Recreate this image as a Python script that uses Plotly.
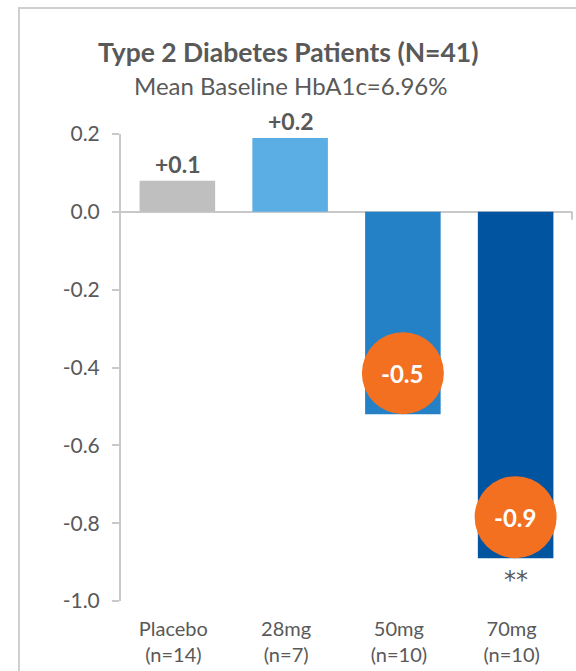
import plotly.graph_objects as go

# HbA1c change from baseline by dose group
categories = ["Placebo<br>(n=14)", "28mg<br>(n=7)", "50mg<br>(n=10)", "70mg<br>(n=10)"]
hba1c_change = [0.08, 0.19, -0.52, -0.89]
significance = ["", "", "", "**"]
bar_colors = ["#BFBFBF", "#5BAEE4", "#2581C5", "#0054A0"]
highlighted = [False, False, True, True]
y_ticks = [0.2, 0.0, -0.2, -0.4, -0.6, -0.8, -1.0]

title_text = "Type 2 Diabetes Patients (N=41)"
subtitle_text = "Mean Baseline HbA1c=6.96%"

# page geometry (pixels)
W, H = 576, 671
ML, MR, MT, MB = 121, 4, 134, 70
PW, PH = W - ML - MR, H - MT - MB

def px_x(px):
    return (px - ML) / PW

def px_y(py):
    return (H - MB - py) / PH

TEXT = "#595959"
LINE = "#C9C9C9"
ORANGE = "#F37021"
FONT = "Lato"
R = 41  # badge radius in px

fig = go.Figure()
fig.add_trace(go.Bar(
    x=categories, y=hba1c_change,
    marker=dict(color=bar_colors, line=dict(width=0)),
    width=0.67, hoverinfo="skip",
))

shapes = []
annotations = []
for cat, v, hl, sig in zip(categories, hba1c_change, highlighted, significance):
    label = f"{v:+.1f}"
    if hl:
        shapes.append(dict(
            type="circle", xref="x", yref="y",
            xsizemode="pixel", ysizemode="pixel",
            xanchor=cat, yanchor=v,
            x0=-R, x1=R, y0=0, y1=2 * R,
            fillcolor=ORANGE, line=dict(width=0), layer="above",
        ))
        annotations.append(dict(
            x=cat, y=v, xref="x", yref="y", text=f"<b>{label}</b>",
            showarrow=False, yanchor="middle", yshift=R,
            font=dict(family=FONT, size=24, color="white"),
        ))
    else:
        annotations.append(dict(
            x=cat, y=v, xref="x", yref="y", text=f"<b>{label}</b>",
            showarrow=False, yanchor="bottom", yshift=1,
            font=dict(family=FONT, size=23, color=TEXT),
        ))
    if sig:
        annotations.append(dict(
            x=cat, y=v, xref="x", yref="y", text=sig,
            showarrow=False, yanchor="top", yshift=-6,
            font=dict(family="DejaVu Sans", size=24, color=TEXT),
        ))

# end tick on the category axis
shapes.append(dict(
    type="line", xref="paper", yref="y", ysizemode="pixel", yanchor=0,
    x0=1.0, x1=1.0, y0=0, y1=-8, line=dict(color=LINE, width=2),
))

# chart frame (left and top edges)
shapes.append(dict(
    type="line", xref="paper", yref="paper",
    x0=px_x(19), x1=px_x(19), y0=px_y(8), y1=px_y(H + 5),
    line=dict(color="#D0D0D0", width=2),
))
shapes.append(dict(
    type="line", xref="paper", yref="paper",
    x0=px_x(18), x1=px_x(W + 5), y0=px_y(8), y1=px_y(8),
    line=dict(color="#D0D0D0", width=2),
))

annotations.append(dict(
    x=px_x(288), y=px_y(52), xref="paper", yref="paper",
    text=f"<b>{title_text}</b>", showarrow=False,
    xanchor="center", yanchor="middle",
    font=dict(family=FONT, size=26.5, color=TEXT),
))
annotations.append(dict(
    x=px_x(290), y=px_y(85), xref="paper", yref="paper",
    text=subtitle_text, showarrow=False,
    xanchor="center", yanchor="middle",
    font=dict(family=FONT, size=24, color=TEXT),
))

fig.update_layout(
    width=W, height=H,
    margin=dict(l=ML, r=MR, t=MT, b=MB, pad=0),
    paper_bgcolor="white", plot_bgcolor="white",
    showlegend=False, bargap=0.33,
    shapes=shapes, annotations=annotations,
    font=dict(family=FONT, color=TEXT),
)
fig.update_xaxes(
    type="category", range=[-0.5, 3.5],
    showline=False, showgrid=False, ticks="",
    tickfont=dict(family=FONT, size=20, color=TEXT),
    ticklabelshift=-4, ticklabelstandoff=14,
)
fig.update_yaxes(
    range=[-1.0, 0.2], tickvals=y_ticks,
    ticktext=[f"{t:.1f}" for t in y_ticks],
    showline=True, linecolor=LINE, linewidth=2,
    ticks="outside", ticklen=7, tickwidth=2, tickcolor=LINE,
    showgrid=False,
    zeroline=True, zerolinecolor=LINE, zerolinewidth=2,
    tickfont=dict(family=FONT, size=21, color=TEXT),
    ticklabelstandoff=8,
)

fig.write_html("out.html")
